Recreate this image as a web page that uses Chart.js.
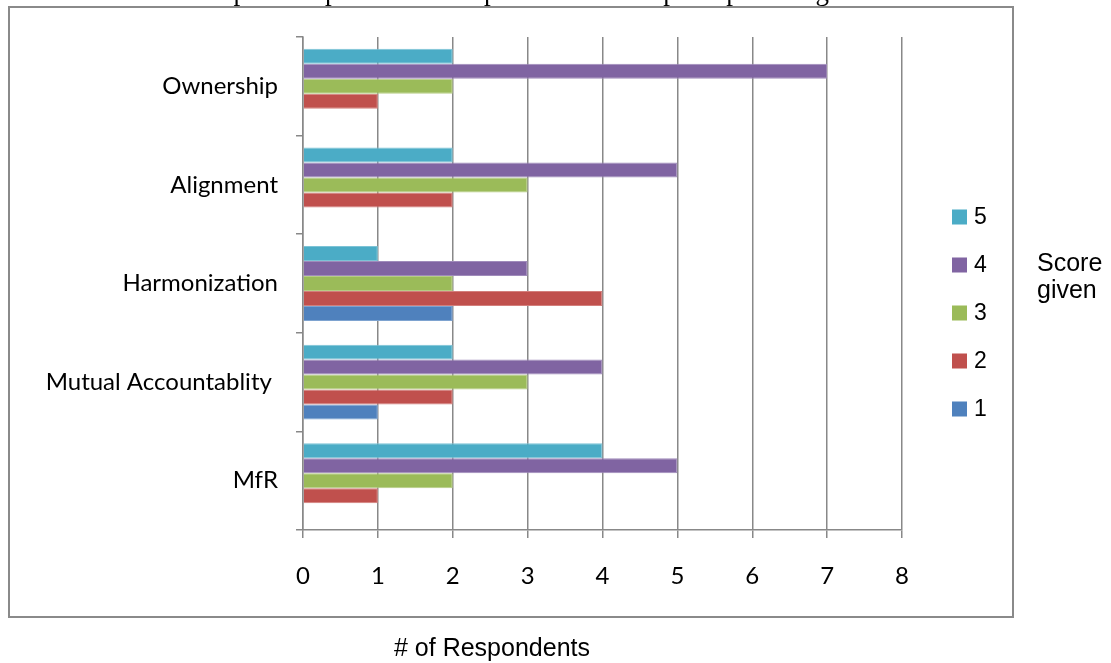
<!DOCTYPE html>
<html>
<head>
<meta charset="utf-8">
<script src="https://cdn.jsdelivr.net/npm/chart.js@4.4.0/dist/chart.umd.min.js"></script>
<style>
  html, body { margin: 0; padding: 0; background: #fff; }
  #wrap { position: relative; width: 1111px; height: 663px; }
</style>
</head>
<body>
<div id="wrap"><canvas id="chart" width="1111" height="663"></canvas></div>
<script>
// Principles, top to bottom
const principles = ['Ownership', 'Alignment', 'Harmonization', 'Mutual Accountablity ', 'MfR'];
// Score given (legend order, top to bottom)
const scoreLabels = ['5', '4', '3', '2', '1'];
// # of respondents per principle, one array per score
const score5 = [2, 2, 1, 2, 4];
const score4 = [7, 5, 3, 4, 5];
const score3 = [2, 3, 2, 3, 2];
const score2 = [1, 2, 4, 2, 1];
const score1 = [0, 0, 2, 1, 0];
const xTickMax = 8;

const scoreColors = ['#4BACC6', '#8064A2', '#9BBB59', '#C0504D', '#4F81BD'];
const scoreBorders = ['#7cc3d6', '#a08bbb', '#b6cd85', '#d37f7c', '#7ea3d0'];
const gridGray = '#888888';

const seriesValues = [score5, score4, score3, score2, score1];

const datasets = scoreLabels.map((lab, i) => ({
    label: lab,
    data: seriesValues[i],
    backgroundColor: scoreColors[i],
    borderColor: scoreBorders[i],
    borderWidth: 1,
    categoryPercentage: 0.76,
    barPercentage: 1.0
}));

// Frame, title, legend and outside texts
const extrasPlugin = {
    id: 'extras',
    afterDraw(chart) {
        const ctx = chart.ctx;
        ctx.save();

        // outer frame
        ctx.strokeStyle = '#8a8a8a';
        ctx.lineWidth = 2;
        ctx.strokeRect(9, 7, 1004, 610);

        // title, mostly cut off at the top
        ctx.fillStyle = '#000';
        ctx.font = '27px "Liberation Serif"';
        ctx.textAlign = 'center';
        ctx.textBaseline = 'alphabetic';
        ctx.fillText('Graph 4: Repartition of respondents on PD principle rating', 511, 0);

        // legend
        ctx.textAlign = 'left';
        ctx.textBaseline = 'middle';
        ctx.font = '23px "Liberation Sans"';
        chart.data.datasets.forEach((ds, i) => {
            const cy = 217 + i * 48;
            ctx.fillStyle = ds.backgroundColor;
            ctx.fillRect(952, cy - 7.5, 15, 15);
            ctx.fillStyle = '#000';
            ctx.fillText(ds.label, 974, cy + 1);
        });

        // legend title outside the frame
        ctx.font = '25px "Liberation Sans"';
        ctx.fillText('Score', 1037, 264);
        ctx.fillText('given', 1037, 291);

        // x axis title below the frame
        ctx.textAlign = 'center';
        ctx.fillText('# of Respondents', 492, 649);

        ctx.restore();
    }
};

new Chart(document.getElementById('chart'), {
    type: 'bar',
    data: {
        labels: principles,
        datasets: datasets
    },
    options: {
        indexAxis: 'y',
        responsive: false,
        animation: false,
        layout: {
            padding: { left: 20, top: 37, right: 209, bottom: 63 }
        },
        scales: {
            x: {
                type: 'linear',
                min: 0,
                max: xTickMax,
                ticks: {
                    stepSize: 1,
                    color: '#000',
                    padding: 24,
                    font: { family: 'Lato', size: 24 }
                },
                grid: {
                    color: gridGray,
                    lineWidth: 1.5,
                    tickLength: 8
                },
                border: { color: gridGray, width: 1.5 },
                afterFit: function(scale) { scale.height = 70; }
            },
            y: {
                ticks: {
                    color: '#000',
                    padding: 18,
                    font: { family: 'Lato', size: 24 }
                },
                grid: {
                    drawOnChartArea: false,
                    color: gridGray,
                    lineWidth: 1.5,
                    tickLength: 7
                },
                border: { color: gridGray, width: 1.5 },
                afterFit: function(scale) { scale.width = 283; }
            }
        },
        plugins: {
            legend: { display: false },
            tooltip: { enabled: false }
        }
    },
    plugins: [extrasPlugin]
});
</script>
</body>
</html>
